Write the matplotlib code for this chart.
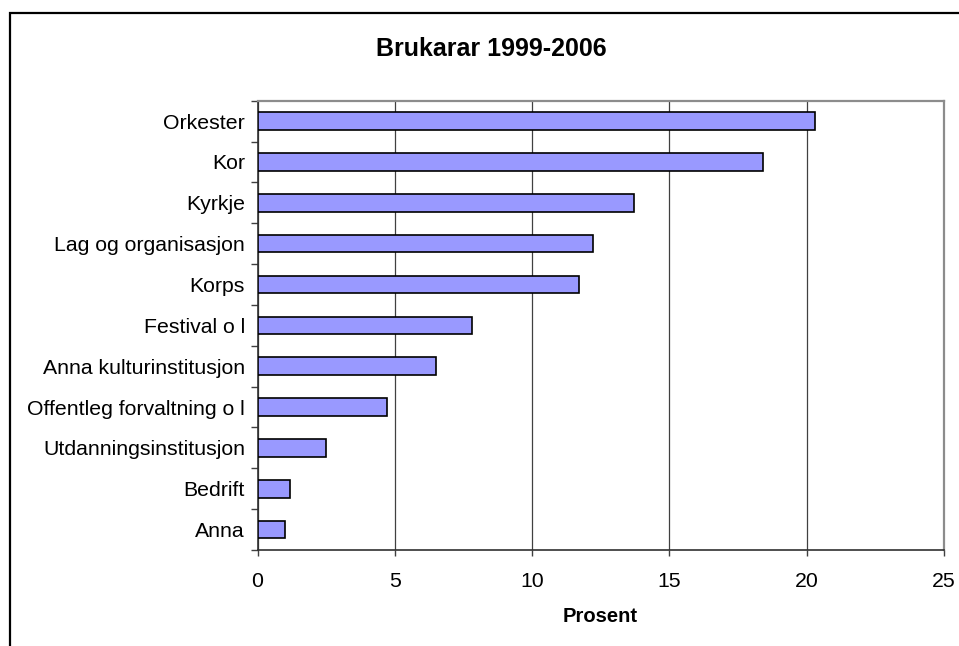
import matplotlib.pyplot as plt
from matplotlib.patches import Rectangle
from matplotlib.ticker import MultipleLocator, FixedLocator

plt.rcParams['font.family'] = ['Liberation Sans', 'DejaVu Sans']

# Data (top to bottom as shown)
categories = ['Orkester', 'Kor', 'Kyrkje', 'Lag og organisasjon', 'Korps',
              'Festival o l', 'Anna kulturinstitusjon', 'Offentleg forvaltning o l',
              'Utdanningsinstitusjon', 'Bedrift', 'Anna']
values = [20.3, 18.4, 13.7, 12.2, 11.7, 7.8, 6.5, 4.7, 2.5, 1.2, 1.0]

fig = plt.figure(figsize=(9.59, 6.46), dpi=100)
ax = fig.add_axes([257.5 / 959, 1 - 550 / 646, (944 - 257.5) / 959, (550 - 100.7) / 646])

# plot in reverse so first category is on top
ypos = list(range(len(categories)))[::-1]
ax.barh(ypos, values, height=0.43, color='#9999FF', edgecolor='black',
        linewidth=1.2, zorder=3)

ax.set_xlim(0, 25)
ax.set_ylim(-0.5, len(categories) - 0.5)
ax.xaxis.set_major_locator(MultipleLocator(5))
ax.grid(axis='x', color='#404040', linewidth=0.9, zorder=1)

# y labels without ticks, ticks on category boundaries
ax.set_yticks(ypos)
ax.set_yticklabels(categories)
ax.yaxis.set_minor_locator(FixedLocator([i - 0.5 for i in range(len(categories) + 1)]))
ax.tick_params(axis='y', which='major', length=0, pad=9, labelsize=15.3)
ax.tick_params(axis='y', which='minor', length=5, width=1, color='#404040', direction='out')
ax.tick_params(axis='x', length=4.5, width=1, color='#404040', pad=11, labelsize=15.3)

for s in ['top', 'right']:
    ax.spines[s].set_color('#8c8c8c')
    ax.spines[s].set_linewidth(1.6)
for s in ['left', 'bottom']:
    ax.spines[s].set_color('#303030')
    ax.spines[s].set_linewidth(1.2)

fig.text(491.5 / 959, 1 - 49 / 646, 'Brukarar 1999-2006', ha='center', va='center',
         fontsize=18, fontweight='bold')
fig.text(600 / 959, 1 - 616 / 646, 'Prosent', ha='center', va='center',
         fontsize=14.5, fontweight='bold')

# outer chart frame (cut off at right and bottom)
fig.patches.append(Rectangle((10 / 959, -0.1), 1.2, 1.1 - 13 / 646,
                             transform=fig.transFigure, fill=False,
                             edgecolor='black', linewidth=1.6))

fig.savefig('out.png', dpi=100)
